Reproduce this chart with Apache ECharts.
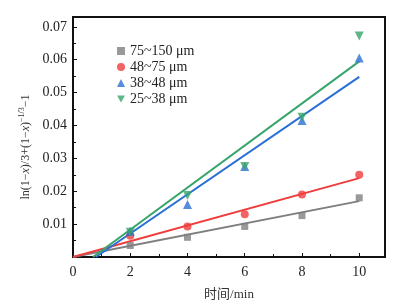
<!DOCTYPE html>
<html>
<head>
<meta charset="utf-8">
<script src="https://cdn.jsdelivr.net/npm/echarts@6/dist/echarts.min.js"></script>
<style>
  html, body { margin: 0; padding: 0; background: #fff; }
  #chart { width: 397px; height: 306px; }
</style>
</head>
<body>
<div id="chart"></div>
<script>
// 粒径分组
const names = ['75~150 μm', '48~75 μm', '38~48 μm', '25~38 μm']
const times = [2, 4, 6, 8, 10]

// 实测点
const grayPts = [0.0035, 0.006, 0.0093, 0.0126, 0.018]
const redPts = [0.0065, 0.0093, 0.013, 0.019, 0.025]
const bluePts = [0.0078, 0.016, 0.0275, 0.0415, 0.0605]
const greenPts = [0.0075, 0.0187, 0.0275, 0.0425, 0.0672]

// 拟合直线端点
const grayFit = [[0, 0], [10, 0.017]]
const redFit = [[0, 0], [10, 0.024]]
const blueFit = [[0.8, 0], [10, 0.0548]]
const greenFit = [[0.7, 0], [10, 0.0595]]

const xTicks = [0, 2, 4, 6, 8, 10]
const yTicks = [0.01, 0.02, 0.03, 0.04, 0.05, 0.06, 0.07]

const colors = ['#7f7f7f', '#f03c3c', '#2a6fd6', '#37a56a']
const symbols = ['rect', 'circle', 'triangle', 'triangle']
const icons = ['rect', 'circle', 'triangle', 'path://M0,0 L10,0 L5,9 Z']
const rotates = [0, 0, 0, 180]
const sizes = [7, 8, 9, 9]
const pts = [grayPts, redPts, bluePts, greenPts]
const fits = [grayFit, redFit, blueFit, greenFit]

const serif = "'Liberation Serif', 'DejaVu Serif', 'Noto Sans CJK SC', serif"

const chart = echarts.init(document.getElementById('chart'))

const series = []
fits.forEach((f, i) => {
  series.push({
    type: 'line',
    data: f,
    symbol: 'none',
    lineStyle: { color: colors[i], width: 2 },
    silent: true,
    z: 2
  })
})
pts.forEach((p, i) => {
  series.push({
    name: names[i],
    type: 'scatter',
    data: times.map((t, k) => [t, p[k]]),
    symbol: symbols[i],
    symbolRotate: rotates[i],
    symbolSize: sizes[i],
    itemStyle: { color: colors[i] },
    z: 3
  })
})

const option = {
  animation: false,
  grid: {
    left: 73, right: 12, top: 17, bottom: 46,
    show: true,
    borderColor: '#111',
    borderWidth: 2
  },
  legend: {
    data: names.map((n, i) => ({ name: n, icon: icons[i] })),
    orient: 'vertical',
    left: 112,
    top: 39,
    itemWidth: 8,
    itemHeight: 8,
    itemGap: 2,
    textStyle: { fontFamily: serif, fontSize: 14, color: '#222' }
  },
  xAxis: {
    type: 'value',
    min: 0,
    max: 10.9,
    interval: 2,
    name: '时间/min',
    nameLocation: 'middle',
    nameGap: 31,
    nameTextStyle: { fontFamily: serif, fontSize: 13, color: '#333' },
    axisLine: { lineStyle: { color: '#111', width: 2 } },
    axisTick: { inside: true, length: 4, lineStyle: { color: '#111' } },
    minorTick: { show: true, splitNumber: 2, length: 3, lineStyle: { color: '#111' } },
    splitLine: { show: false },
    axisLabel: {
      fontFamily: serif, fontSize: 14, color: '#222', margin: 8,
      formatter: v => xTicks.includes(v) ? String(v) : ''
    }
  },
  yAxis: {
    type: 'value',
    min: 0,
    max: 0.073,
    interval: 0.01,
    name: '{n|ln(1−}{i|x}{n|)/3+(1−}{i|x}{n|)}{s|−1/3}{n|−1}',
    nameLocation: 'middle',
    nameRotate: 90,
    nameGap: 35,
    nameTextStyle: {
      fontFamily: serif,
      fontSize: 12,
      padding: [0, 20, 0, 0],
      rich: {
        n: { fontFamily: serif, fontSize: 12, color: '#333', lineHeight: 16 },
        i: { fontFamily: serif, fontSize: 12, fontStyle: 'italic', color: '#333', lineHeight: 16 },
        s: { fontFamily: serif, fontSize: 8, color: '#333', verticalAlign: 'top', lineHeight: 16 }
      }
    },
    axisLine: { lineStyle: { color: '#111', width: 2 } },
    axisTick: { inside: true, length: 4, lineStyle: { color: '#111' } },
    minorTick: { show: true, splitNumber: 2, length: 3, lineStyle: { color: '#111' } },
    splitLine: { show: false },
    axisLabel: {
      fontFamily: serif, fontSize: 14, color: '#222', margin: 6,
      formatter: v => {
        const hit = yTicks.find(t => Math.abs(t - v) < 1e-9)
        return hit ? hit.toFixed(2) : ''
      }
    }
  },
  series
}

chart.setOption(option)
</script>
</body>
</html>
